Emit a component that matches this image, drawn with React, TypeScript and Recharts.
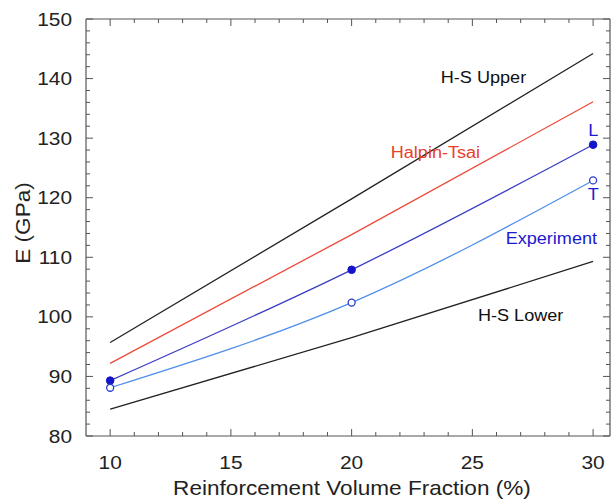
import React from 'react';
import { LineChart, Line, XAxis, YAxis, ReferenceDot } from 'recharts';

// volume fraction (%) at which the curves were read
const fractions = [10, 20, 30];
const hsUpper = [95.7, 119.8, 144.2];
const halpinTsai = [92.2, 113.8, 136.1];
const expL = [89.3, 107.9, 128.9];
const expT = [88.1, 102.4, 122.9];
const hsLower = [84.5, 96.5, 109.3];

const xTicks = [10, 11, 12, 13, 14, 15, 16, 17, 18, 19, 20, 21, 22, 23, 24, 25, 26, 27, 28, 29, 30];
const xMajor = [10, 15, 20, 25, 30];
const yTicks = [80, 82, 84, 86, 88, 90, 92, 94, 96, 98, 100, 102, 104, 106, 108, 110, 112, 114, 116, 118, 120, 122, 124, 126, 128, 130, 132, 134, 136, 138, 140, 142, 144, 146, 148, 150];
const yMajor = [80, 90, 100, 110, 120, 130, 140, 150];

// curve labels: text, x, y, colour
const curveLabels: [string, number, number, string][] = [
  ['H-S Upper', 25.46, 140.1, '#111'],
  ['Halpin-Tsai', 23.47, 127.5, '#e8402a'],
  ['L', 30.01, 131.2, '#1a1ad0'],
  ['T', 30.01, 120.45, '#1a1ad0'],
  ['Experiment', 28.27, 113.1, '#1a1ad0'],
  ['H-S Lower', 27.0, 100.1, '#111'],
];

const data = fractions.map((f, i) => ({
  x: f,
  hsUpper: hsUpper[i],
  halpinTsai: halpinTsai[i],
  expL: expL[i],
  expT: expT[i],
  hsLower: hsLower[i],
}));

const FONT = '"Liberation Sans", Arial, sans-serif';
const AXIS = '#555';
const STRETCH = 1.13;

function SText({ x, y, size, fill = '#222', anchor = 'middle', rotate = 0, children }: any) {
  return (
    <text
      transform={`translate(${x} ${y}) rotate(${rotate}) scale(${STRETCH} 1)`}
      textAnchor={anchor}
      dominantBaseline="central"
      fontSize={size}
      fontFamily={FONT}
      fill={fill}
    >
      {children}
    </text>
  );
}

const LeftTick = (p: any) => {
  const major = yMajor.includes(p.payload.value);
  return (
    <g>
      <line x1={p.x} x2={p.x + (major ? 7 : 4)} y1={p.y} y2={p.y} stroke={AXIS} strokeWidth={1} />
      {major && (
        <SText x={p.x - 14} y={p.y} size={18.5} anchor="end">
          {p.payload.value}
        </SText>
      )}
    </g>
  );
};

const RightTick = (p: any) => {
  const major = yMajor.includes(p.payload.value);
  return <line x1={p.x} x2={p.x - (major ? 7 : 4)} y1={p.y} y2={p.y} stroke={AXIS} strokeWidth={1} />;
};

const BottomTick = (p: any) => {
  const major = xMajor.includes(p.payload.value);
  return (
    <g>
      <line x1={p.x} x2={p.x} y1={p.y} y2={p.y - (major ? 7 : 4)} stroke={AXIS} strokeWidth={1} />
      {major && (
        <SText x={p.x} y={p.y + 26} size={18.5}>
          {p.payload.value}
        </SText>
      )}
    </g>
  );
};

const TopTick = (p: any) => {
  const major = xMajor.includes(p.payload.value);
  return <line x1={p.x} x2={p.x} y1={p.y} y2={p.y + (major ? 7 : 4)} stroke={AXIS} strokeWidth={1} />;
};

export default function App() {
  return (
    <div style={{ position: 'absolute', left: 0, top: 0, width: 612, height: 499, background: '#fff' }}>
      <LineChart width={612} height={499} data={data} margin={{ top: 18, right: 1, left: 0, bottom: 0 }}>
        <XAxis
          dataKey="x"
          type="number"
          domain={[9, 30.7]}
          allowDataOverflow
          ticks={xTicks}
          interval={0}
          height={63}
          tickSize={0}
          tickMargin={0}
          tickLine={false}
          axisLine={{ stroke: AXIS, strokeWidth: 1.2 }}
          tick={BottomTick}
          label={{
            content: () => (
              <SText x={352} y={488} size={20}>
                Reinforcement Volume Fraction (%)
              </SText>
            ),
          }}
        />
        <XAxis
          xAxisId="top"
          dataKey="x"
          orientation="top"
          type="number"
          domain={[9, 30.7]}
          allowDataOverflow
          ticks={xTicks}
          interval={0}
          height={1}
          tickSize={0}
          tickMargin={0}
          tickLine={false}
          axisLine={{ stroke: AXIS, strokeWidth: 1.2 }}
          tick={TopTick}
        />
        <YAxis
          type="number"
          domain={[80, 150]}
          allowDataOverflow
          ticks={yTicks}
          interval={0}
          width={86}
          tickSize={0}
          tickMargin={0}
          tickLine={false}
          axisLine={{ stroke: AXIS, strokeWidth: 1.2 }}
          tick={LeftTick}
          label={{
            content: () => (
              <SText x={23} y={223} size={20} rotate={-90}>
                E (GPa)
              </SText>
            ),
          }}
        />
        <YAxis
          yAxisId="right"
          orientation="right"
          type="number"
          domain={[80, 150]}
          allowDataOverflow
          ticks={yTicks}
          interval={0}
          width={1}
          tickSize={0}
          tickMargin={0}
          tickLine={false}
          axisLine={{ stroke: AXIS, strokeWidth: 1.2 }}
          tick={RightTick}
        />
        {/* drawn on the top/right axes (same domains) so those frame axes get rendered */}
        <Line
          type="natural"
          dataKey="hsUpper"
          xAxisId="top"
          yAxisId="right"
          stroke="#222"
          strokeWidth={1.3}
          dot={false}
          isAnimationActive={false}
        />
        <Line type="natural" dataKey="halpinTsai" stroke="#ee4a3a" strokeWidth={1.3} dot={false} isAnimationActive={false} />
        <Line
          type="natural"
          dataKey="expL"
          stroke="#3c3cc4"
          strokeWidth={1.3}
          dot={{ r: 3.8, fill: '#1414c8', stroke: '#1414c8', strokeWidth: 1 }}
          isAnimationActive={false}
        />
        <Line
          type="natural"
          dataKey="expT"
          stroke="#4f8fea"
          strokeWidth={1.3}
          dot={{ r: 3.5, fill: '#fff', stroke: '#2a3ad0', strokeWidth: 1.3 }}
          isAnimationActive={false}
        />
        <Line type="natural" dataKey="hsLower" stroke="#222" strokeWidth={1.3} dot={false} isAnimationActive={false} />
        {curveLabels.map(([text, x, y, color]) => (
          <ReferenceDot
            key={text}
            x={x}
            y={y}
            r={0}
            ifOverflow="visible"
            shape={(p: any) => (
              <SText x={p.cx} y={p.cy} size={16} fill={color}>
                {text}
              </SText>
            )}
          />
        ))}
      </LineChart>
    </div>
  );
}
